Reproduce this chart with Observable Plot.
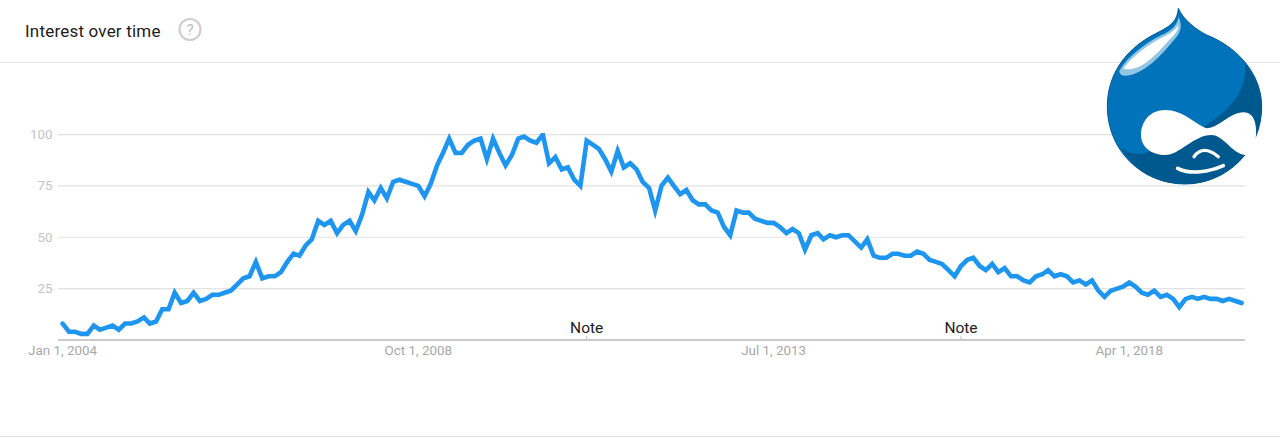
<!DOCTYPE html>
<html>
<head>
<meta charset="utf-8">
<script src="https://cdn.jsdelivr.net/npm/d3@7"></script>
<script src="https://cdn.jsdelivr.net/npm/@observablehq/plot@0.6"></script>
<style>
html,body{margin:0;padding:0;background:#fff;}
#page{position:relative;width:1280px;height:438px;overflow:hidden;font-family:Roboto,sans-serif;}
#head{height:62px;border-bottom:1px solid #e6e6e6;box-sizing:content-box;position:relative;}
#title{position:absolute;left:25px;top:21px;font-size:17px;line-height:20px;color:#212121;letter-spacing:.2px;}
#help{position:absolute;left:177px;top:17px;}
#foot{position:absolute;left:0;right:0;top:436px;height:1px;background:#e0e0e0;}
#logo{position:absolute;left:1090px;top:0;}
#chart svg{display:block;}
</style>
</head>
<body>
<div id="page">
  <div id="head">
    <div id="title">Interest over time</div>
    <svg id="help" width="26" height="26" viewBox="0 0 26 26">
      <circle cx="13" cy="12.5" r="10.5" fill="none" stroke="#cfcfcf" stroke-width="2.2"/>
      <text x="13" y="18" text-anchor="middle" font-family="Roboto,sans-serif" font-size="15" fill="#bdbdbd">?</text>
    </svg>
  </div>
  <div id="chart"></div>
  <div id="foot"></div>
  <svg id="logo" width="190" height="200" viewBox="0 0 570 600">
    <path d="M265,25 C280,60 320,90 350,105 C440,140 515,220 515,320 C515,450 410,552 285,552 C155,552 52,450 52,320 C52,220 110,150 180,110 C225,85 262,75 265,25 Z" fill="#0073ba" stroke="#005a94" stroke-width="3"/>
    <path d="M465,190 C475,270 420,330 350,375 L160,462 C130,462 110,458 95,445 C130,510 200,552 285,552 C410,552 515,450 515,320 C515,270 495,225 465,190 Z" fill="#00598e"/>
    <path d="M88,212 C112,170 165,130 215,105 C245,92 262,75 266,50 C275,75 278,92 250,122 C215,165 160,225 105,227 C95,227 88,222 88,212 Z" fill="#93c5e4"/>
    <path d="M100,205 C130,165 180,130 225,108 C245,98 258,88 265,75 C265,90 258,100 240,118 C210,150 165,205 120,208 C110,208 102,208 100,205 Z" fill="#fff"/>
    <path d="M350,385 C310,370 280,330 225,330 C180,330 153,365 153,405 C153,445 190,465 225,465 C270,465 310,405 365,405 C400,405 425,460 465,465 C490,465 500,430 498,385 C495,350 480,337 460,337 C420,337 385,385 350,385 Z" fill="#fff"/>
    <path d="M263,505 C300,525 360,515 400,497" fill="none" stroke="#fff" stroke-width="11" stroke-linecap="round"/>
    <path d="M312,470 C330,445 355,445 385,470" fill="none" stroke="#fff" stroke-width="10" stroke-linecap="round"/>
  </svg>
</div>
<script>
const startYear = 2004;
const interest = [
  8,4,4,3,3,7,5,6,7,5,8,8,9,11,8,9,15,15,23,18,19,23,19,20,22,22,23,24,27,30,31,38,30,31,31,33,38,42,41,46,
  49,58,56,58,52,56,58,53,61,72,68,74,69,77,78,77,76,75,70,76,85,91.5,98,91,91,95,97,98,88,98,91,85,90,98,99,97,96,100,86,89,
  83,84,78,75,97,95,93,88,82,92,84,86,83,77,74,63,75,79,75,71,73,68,66,66,63,62,55,51,63,62,62,59,58,57,57,55,52,54,52,44,
  51,52,49,51,50,51,51,48,45,49,41,40,40,42,42,41,41,43,42,39,38,37,34,31,36,39,40,36,34,37,33,35,31,31,29,28,31,32,34,31,
  32,31,28,29,27,29,24,21,24,25,26,28,26,23,22,24,21,22,20,16,20,21,20,21,20,20,19,20,19,18
];
const yTicks = [25, 50, 75, 100];
const xTickDates = [new Date(Date.UTC(2004,0,1)), new Date(Date.UTC(2008,9,1)), new Date(Date.UTC(2013,6,1)), new Date(Date.UTC(2018,3,1))];
const noteDates = [new Date(Date.UTC(2011,0,1)), new Date(Date.UTC(2016,0,1))];
const noteLabels = ["Note", "Note"];

const rows = interest.map((value, i) => ({date: new Date(Date.UTC(startYear, i, 1)), value}));
const notes = noteDates.map((date, i) => ({date, label: noteLabels[i]}));

const chart = Plot.plot({
  width: 1280,
  height: 375,
  marginTop: 70,
  marginBottom: 98.5,
  marginLeft: 58,
  marginRight: 35,
  style: {fontFamily: "Roboto, sans-serif", background: "transparent"},
  x: {type: "utc", domain: [new Date(Date.UTC(2003,11,12)), new Date(Date.UTC(2019,9,20))]},
  y: {domain: [0, 100.5]},
  marks: [
    Plot.ruleY(yTicks, {stroke: "#e2e2e2", strokeWidth: 1.2, strokeOpacity: 1}),
    Plot.ruleY([0], {stroke: "#b9b9b9", strokeWidth: 1.5, strokeOpacity: 1}),
    Plot.ruleX(notes, {x: "date", y1: 0, y2: 1.5, stroke: "#b9b9b9"}),
    Plot.axisY({ticks: yTicks, tickSize: 0, tickPadding: 6, label: null, fontSize: 13.4, color: "#c4c4c4", marginLeft: 58}),
    Plot.axisX({ticks: xTickDates, tickSize: 0, tickPadding: 5, label: null, fontSize: 13.4, color: "#a8a8a8", tickFormat: d3.utcFormat("%b %-d, %Y")}),
    Plot.text(notes, {x: "date", y: 0, text: "label", dy: -12, fontSize: 15.5, fill: "#212121"}),
    Plot.line(rows, {x: "date", y: "value", stroke: "#1e96f0", strokeWidth: 4.6, curve: "linear", strokeLinejoin: "miter", strokeMiterlimit: 4, clip: "frame"})
  ]
});
document.getElementById("chart").appendChild(chart);
</script>
</body>
</html>
